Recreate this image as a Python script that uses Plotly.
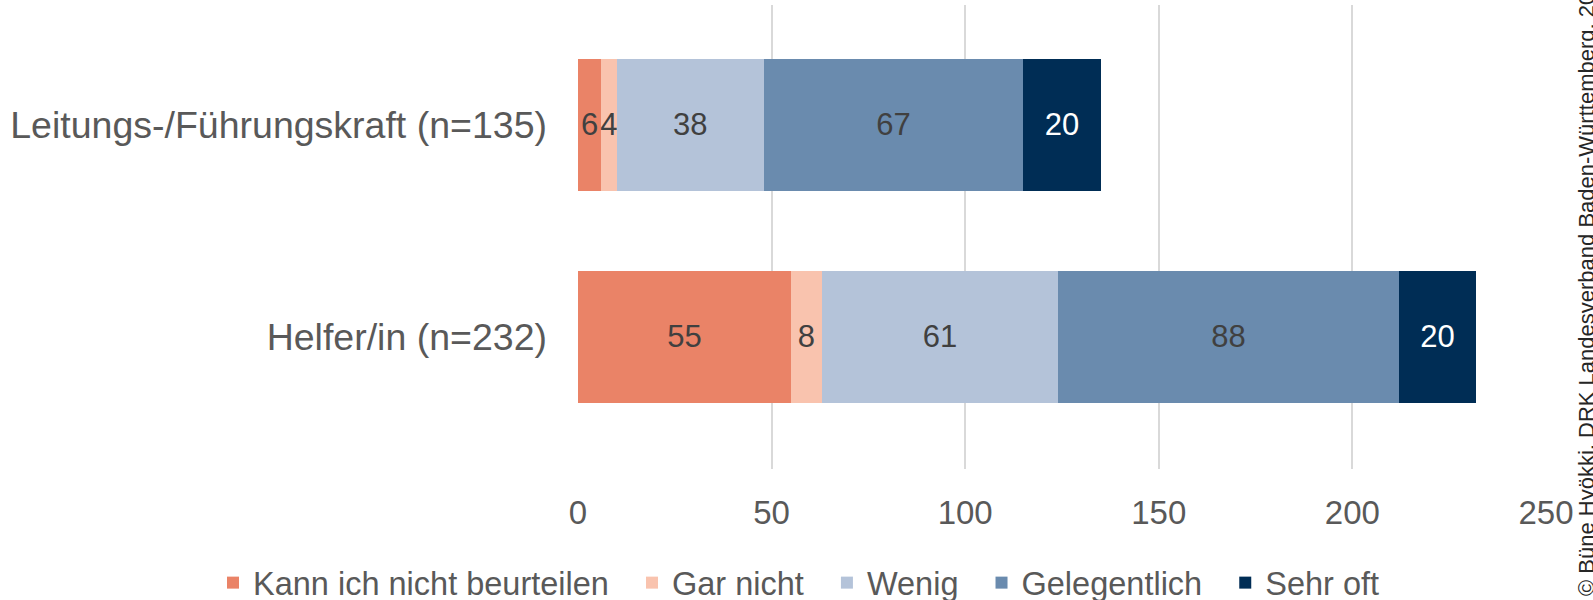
import plotly.graph_objects as go

categories = ["Helfer/in (n=232)", "Leitungs-/Führungskraft (n=135)"]
series_names = ["Kann ich nicht beurteilen", "Gar nicht", "Wenig", "Gelegentlich", "Sehr oft"]
kann_nicht = [55, 6]
gar_nicht = [8, 4]
wenig = [61, 38]
gelegentlich = [88, 67]
sehr_oft = [20, 20]
x_ticks = [0, 50, 100, 150, 200, 250]

values = [kann_nicht, gar_nicht, wenig, gelegentlich, sehr_oft]
colors = ["#EA8367", "#F9C3AE", "#B4C3D9", "#6A8BAE", "#002D55"]
text_colors = ["#404040", "#404040", "#404040", "#404040", "#FFFFFF"]

FONT = "Liberation Sans, Arial, sans-serif"
NBSP = "\u00a0"

# plot area geometry (pixels)
P_TOP, P_BOT, P_LEFT, P_RIGHT = 5, 469, 578, 1546
P_H = P_BOT - P_TOP
P_W = P_RIGHT - P_LEFT

fig = go.Figure()
for name, vals, col, tcol in zip(series_names, values, colors, text_colors):
    fig.add_trace(go.Bar(
        y=categories, x=vals, name=name + NBSP * 2, orientation="h",
        marker=dict(color=col, line=dict(width=0)),
        width=0.623,
        text=[str(v) for v in vals],
        textposition="inside", insidetextanchor="middle",
        constraintext="none", cliponaxis=False,
        textfont=dict(family=FONT, size=31, color=tcol),
        hoverinfo="skip",
    ))

fig.update_layout(
    barmode="stack",
    width=1593, height=600,
    margin=dict(l=P_LEFT, r=1593 - P_RIGHT, t=P_TOP, b=600 - P_BOT, autoexpand=False),
    paper_bgcolor="white", plot_bgcolor="white",
    font=dict(family=FONT, color="#595959"),
    showlegend=True,
    legend=dict(
        orientation="h",
        xanchor="left", x=(213 - P_LEFT) / P_W,
        yanchor="middle", y=(P_BOT - 583) / P_H,
        font=dict(family=FONT, size=32.5, color="#595959"),
        traceorder="normal", itemwidth=30,
    ),
    xaxis=dict(
        range=[0, 250], tickvals=x_ticks, ticktext=[str(t) for t in x_ticks],
        showgrid=True, gridcolor="#D9D9D9", gridwidth=1.5,
        zeroline=False, showline=False,
        tickfont=dict(family=FONT, size=33, color="#595959"),
        ticklabelstandoff=21,
    ),
    yaxis=dict(
        type="category", range=[-0.623, 1.566],
        categoryorder="array", categoryarray=categories,
        showgrid=False, zeroline=False, showline=False,
        tickfont=dict(family=FONT, size=37.5, color="#595959"),
        ticklabelstandoff=30,
    ),
    annotations=[dict(
        text="© Büne Hyökki, DRK Landesverband Baden-Württemberg, 2024",
        xref="paper", yref="paper", x=(1586 - P_LEFT) / P_W, y=(P_BOT - 598) / P_H,
        xanchor="center", yanchor="bottom", textangle=-90,
        showarrow=False, font=dict(family=FONT, size=22, color="#262626"),
    )],
)

fig.write_html("out.html",
               config={"displayModeBar": False},
               post_script="document.body.style.margin='0';document.body.style.overflow='hidden';")
